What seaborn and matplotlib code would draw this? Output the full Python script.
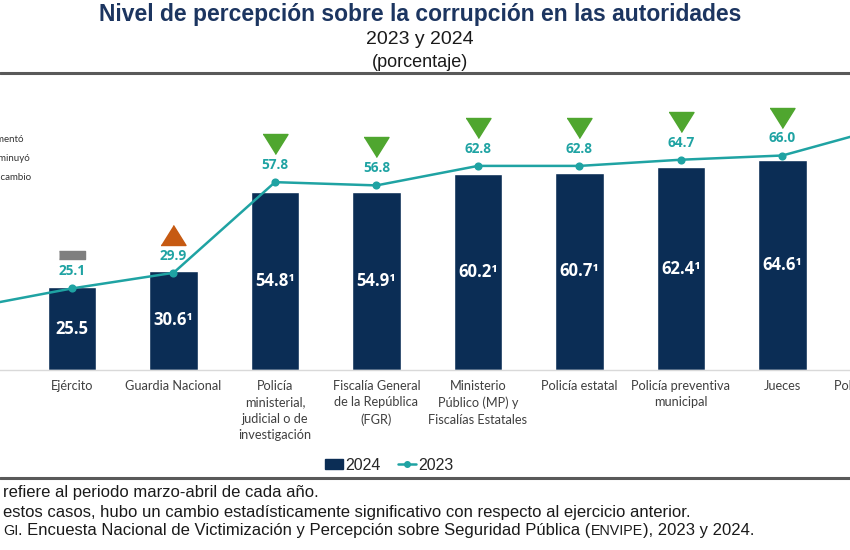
import matplotlib
matplotlib.use("Agg")
import matplotlib.pyplot as plt
import matplotlib.transforms as mtransforms
from matplotlib.lines import Line2D
from matplotlib.patches import Patch
import numpy as np
import pandas as pd
import seaborn as sns

# Categories (first and last are cut off by the crop of the original slide)
autoridades = ["Marina", "Ejército", "Guardia Nacional",
               "Policía\nministerial,\njudicial o de\ninvestigación",
               "Fiscalía General\nde la República\n(FGR)",
               "Ministerio\nPúblico (MP) y\nFiscalías Estatales",
               "Policía estatal", "Policía preventiva\nmunicipal",
               "Jueces", "Policía de tránsito"]
valores_2024 = [18.9, 25.5, 30.6, 54.8, 54.9, 60.2, 60.7, 62.4, 64.6, 73.8]
valores_2023 = [19.2, 25.1, 29.9, 57.8, 56.8, 62.8, 62.8, 64.7, 66.0, 74.6]
significativo = [False, False, True, True, True, True, True, True, True, True]
# cambio respecto al año anterior: "up", "down", "same"
cambio = ["same", "same", "up", "down", "down", "down", "down", "down", "down", "down"]

NAVY = "#0B2D55"
TEAL = "#1FA3A3"
GREEN = "#4FA62F"
ORANGE = "#C65A12"
GRAY = "#7F7F7F"
TITLE = "#1C3560"

df = pd.DataFrame({"autoridad": autoridades, "2024": valores_2024, "2023": valores_2023})

sns.set_style("white")
narrow = ["Liberation Sans Narrow", "Liberation Sans", "DejaVu Sans"]
cal = ["Lato", "DejaVu Sans"]
plt.rcParams["font.family"] = cal

fig = plt.figure(figsize=(8.5, 5.5), dpi=100)
ax = fig.add_axes([0, 180 / 550, 1, 275 / 550])

sns.barplot(data=df, x="autoridad", y="2024", color=NAVY, saturation=1,
            width=0.48, ax=ax)
sns.pointplot(data=df, x="autoridad", y="2023", color=TEAL, markers="o",
              linewidth=1.8, markersize=4.5, ax=ax)

ax.set_xlabel("")
ax.set_ylabel("")
ax.set_yticks([])
for s in ["top", "left", "right"]:
    ax.spines[s].set_visible(False)
ax.spines["bottom"].set_color("#D9D9D9")
ax.spines["bottom"].set_linewidth(1)
ax.set_xticks(range(len(autoridades)))
ax.set_xticklabels(autoridades, fontsize=9.2, color="#404040", linespacing=1.45,
                   va="top")
ax.set_xticks(np.arange(len(autoridades)) + 0.5, minor=True)
ax.tick_params(axis="x", which="major", length=0, pad=7)
ax.tick_params(axis="x", which="minor", length=6, color="#D9D9D9", width=1)
# the slide is cropped: only part of the category range is visible
x0, x1 = 29.5 / 101.5, 879.5 / 101.5
ax.set_xlim(x0, x1)
ax.set_ylim(0, 275 / 3.25)

# the last category label is partly visible at the right edge
ax.text(len(autoridades) - 1, -10 / 3.25, autoridades[-1], ha="center", va="top",
        fontsize=9.2, color="#404040", clip_on=False)

visibles = [i for i in range(len(autoridades)) if x0 < i < x1]

# labels inside bars
for i in visibles:
    v = valores_2024[i]
    txt = f"{v:.1f}" + ("¹" if significativo[i] else "")
    ax.text(i, v / 2, txt, ha="center", va="center", color="white",
            fontsize=12, fontweight="bold", family=["Open Sans", "DejaVu Sans"])

# labels and change markers above the 2023 line
lbl_tr = mtransforms.offset_copy(ax.transData, fig=fig, y=17, units="dots")
mk_tr = mtransforms.offset_copy(ax.transData, fig=fig, y=38, units="dots")
rect_tr = mtransforms.offset_copy(ax.transData, fig=fig, y=33, units="dots")
tri_down = [(-1.25, 1), (1.25, 1), (0, -1)]
tri_up = [(-1.25, -1), (1.25, -1), (0, 1)]
rect = [(-1.6, -0.5), (1.6, -0.5), (1.6, 0.5), (-1.6, 0.5)]
for i in visibles:
    v, c = valores_2023[i], cambio[i]
    ax.text(i, v, f"{v:.1f}", transform=lbl_tr, ha="center", va="center",
            color=TEAL, fontsize=9.8, fontweight="bold",
            family=["Open Sans", "DejaVu Sans"], clip_on=False)
    if c == "down":
        ax.plot(i, v, marker=tri_down, markersize=18, color=GREEN,
                transform=mk_tr, clip_on=False, ls="none")
    elif c == "up":
        ax.plot(i, v, marker=tri_up, markersize=18, color=ORANGE,
                transform=mk_tr, clip_on=False, ls="none")
    else:
        ax.plot(i, v, marker=rect, markersize=19, color=GRAY,
                transform=rect_tr, clip_on=False, ls="none")

# title block
fig.text(420 / 850, 1 - 14 / 550, "Nivel de percepción sobre la corrupción en las autoridades",
         ha="center", va="center", fontsize=16.5, fontweight="bold", color=TITLE,
         family=narrow)
fig.text(420 / 850, 1 - 40 / 550, "2023 y 2024", ha="center", va="center",
         fontsize=14, color="#1A1A1A", family=narrow)
fig.text(420 / 850, 1 - 62 / 550, "(porcentaje)", ha="center", va="center",
         fontsize=13, color="#1A1A1A", family=narrow)
fig.add_artist(Line2D([0, 1], [1 - 73 / 550] * 2, color="#595959", lw=2.2,
                      transform=fig.transFigure))
fig.add_artist(Line2D([0, 1], [1 - 478 / 550] * 2, color="#595959", lw=2.2,
                      transform=fig.transFigure))

# partly cropped marker legend at the top left
for y, t, xr in [(140, "Aumentó", 24), (158, "Disminuyó", 30), (177, "Sin cambio", 31)]:
    fig.text(xr / 850, 1 - y / 550, t, ha="right", va="center", fontsize=7,
             color="#333333")

# series legend
handles = [Patch(facecolor=NAVY, edgecolor=NAVY),
           Line2D([], [], color=TEAL, lw=1.8, marker="o", markersize=4)]
fig.legend(handles, ["2024", "2023"], loc="center", bbox_to_anchor=(389 / 850, 1 - 465 / 550),
           ncol=2, frameon=False, columnspacing=1.1, handlelength=1.15,
           handleheight=0.6, handletextpad=0.1, prop={"family": narrow, "size": 11.5})

# footnotes (cut at the left edge)
renderer = fig.canvas.get_renderer()


def nota(y, partes):
    x = 3
    for t, small in partes:
        tx = fig.text(x / 850, 1 - y / 550, t, ha="left", va="center",
                      fontsize=10.3 if small else 12, color="#1A1A1A", family=narrow)
        x += tx.get_window_extent(renderer).width


nota(493, [("refiere al periodo marzo-abril de cada año.", False)])
nota(512, [("estos casos, hubo un cambio estadísticamente significativo con respecto al ejercicio anterior.", False)])
nota(531, [("GI", True),
           (". Encuesta Nacional de Victimización y Percepción sobre Seguridad Pública (", False),
           ("ENVIPE", True), ("), 2023 y 2024.", False)])

fig.savefig("out.png", dpi=100)
